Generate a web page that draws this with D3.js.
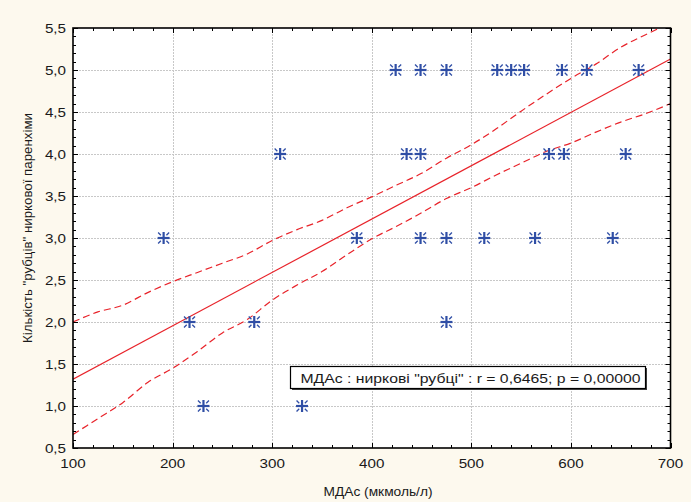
<!DOCTYPE html>
<html>
<head>
<meta charset="utf-8">
<script src="https://cdn.jsdelivr.net/npm/d3@7"></script>
<style>
  html, body { margin: 0; padding: 0; background: #fdf9ee; }
  svg { display: block; }
  text { font-family: "Liberation Sans", Arial, sans-serif; fill: #1a1a1a; }
</style>
</head>
<body>
<svg id="chart" width="691" height="502"></svg>
<script>
// ---- data ----
const mdaValues   = [424, 449, 475, 526, 540, 553, 591, 616, 668,
                     308, 435, 449, 578, 593, 655,
                     191, 385, 449, 475, 513, 564, 642,
                     217, 282, 475,
                     231, 330];
const scarValues  = [5, 5, 5, 5, 5, 5, 5, 5, 5,
                     4, 4, 4, 4, 4, 4,
                     3, 3, 3, 3, 3, 3, 3,
                     2, 2, 2,
                     1, 1];
// regression line end points
const fitX = [100, 700];
const fitY = [1.32, 5.13];
// 95% confidence band
const bandX     = [100, 125, 150, 175, 200, 225, 250, 275, 300, 325, 350, 375, 400, 425, 450, 475, 500, 525, 550, 575, 600, 625, 650, 675, 700];
const bandUpper = [2.00, 2.12, 2.20, 2.35, 2.48, 2.59, 2.70, 2.81, 2.97, 3.10, 3.21, 3.36, 3.49, 3.63, 3.77, 3.95, 4.11, 4.30, 4.51, 4.71, 4.90, 5.07, 5.27, 5.42, 5.56];
const bandLower = [0.66, 0.85, 1.04, 1.28, 1.45, 1.65, 1.87, 2.03, 2.26, 2.44, 2.60, 2.80, 2.99, 3.14, 3.30, 3.47, 3.60, 3.75, 3.89, 4.03, 4.13, 4.26, 4.38, 4.48, 4.60];
const xTicks = [100, 200, 300, 400, 500, 600, 700];
const yTicks = [0.5, 1.0, 1.5, 2.0, 2.5, 3.0, 3.5, 4.0, 4.5, 5.0, 5.5];
const xTitle = "МДАс (мкмоль/л)";
const yTitle = "Кількість \"рубців\" ниркової паренхіми";
const legendText = "МДАс : ниркові \"рубці\" :  r = 0,6465; p = 0,00000";

// ---- layout ----
const L = 73, R = 670.5, T = 28, B = 448;
const svg = d3.select("#chart");
const x = d3.scaleLinear().domain([100, 700]).range([L, R]);
const y = d3.scaleLinear().domain([0.5, 5.5]).range([B, T]);
const fmt = v => d3.format(".1f")(v).replace(".", ",");

svg.append("rect").attr("x", 0).attr("y", 0).attr("width", 691).attr("height", 502).attr("fill", "#fdf9ee");
svg.append("rect").attr("x", L).attr("y", T).attr("width", R - L).attr("height", B - T).attr("fill", "#ffffff");

// grid
const grid = svg.append("g").attr("stroke", "#c8c8c8").attr("stroke-width", 1).attr("stroke-dasharray", "2,1");
grid.selectAll(".gx").data(xTicks.slice(1, -1)).join("line")
  .attr("x1", d => Math.round(x(d)) + 0.5).attr("x2", d => Math.round(x(d)) + 0.5)
  .attr("y1", T).attr("y2", B);
grid.selectAll(".gy").data(yTicks.slice(1, -1)).join("line")
  .attr("y1", d => Math.round(y(d)) + 0.5).attr("y2", d => Math.round(y(d)) + 0.5)
  .attr("x1", L).attr("x2", R);

// clip
svg.append("clipPath").attr("id", "clip").append("rect")
  .attr("x", L).attr("y", T).attr("width", R - L).attr("height", B - T);

const red = "#e8232a";
const plot = svg.append("g").attr("clip-path", "url(#clip)");
const bandLine = d3.line().x((d, i) => x(bandX[i])).y(d => y(d)).curve(d3.curveMonotoneX);
plot.append("path").attr("d", bandLine(bandUpper)).attr("fill", "none")
  .attr("stroke", red).attr("stroke-width", 1.2).attr("stroke-dasharray", "7,4");
plot.append("path").attr("d", bandLine(bandLower)).attr("fill", "none")
  .attr("stroke", red).attr("stroke-width", 1.2).attr("stroke-dasharray", "7,4");
plot.append("path").attr("d", d3.line().x((d, i) => x(fitX[i])).y(d => y(d))(fitY))
  .attr("fill", "none").attr("stroke", red).attr("stroke-width", 1.2);

// markers
const blue = "#2f4ea5";
const pts = mdaValues.map((v, i) => [v, scarValues[i]]);
const mk = svg.append("g");
pts.forEach(([a, b]) => {
  const cx = x(a), cy = y(b);
  const g = mk.append("g").attr("transform", `translate(${cx},${cy})`).attr("stroke", blue);
  g.append("line").attr("x1", -6).attr("x2", 6).attr("y1", 0).attr("y2", 0).attr("stroke-width", 2.2);
  g.append("line").attr("x1", 0).attr("x2", 0).attr("y1", -6).attr("y2", 6).attr("stroke-width", 2.2);
  [[1,1],[1,-1],[-1,1],[-1,-1]].forEach(([sx, sy]) => {
    g.append("line").attr("x1", sx * 2.8).attr("y1", sy * 2.8).attr("x2", sx * 5.5).attr("y2", sy * 5.5).attr("stroke-width", 1.3);
  });
});

// ticks (inward, all four sides)
const ax = svg.append("g").attr("stroke", "#000").attr("stroke-width", 1);
const xMinor = d3.range(100, 701, 20);
const yMinor = d3.range(5, 56, 1).map(v => v / 10);
xMinor.forEach(v => {
  const major = v % 100 === 0;
  const len = major ? 5 : 3;
  const px = Math.round(x(v)) + 0.5;
  ax.append("line").attr("x1", px).attr("x2", px).attr("y1", B).attr("y2", B - len);
  ax.append("line").attr("x1", px).attr("x2", px).attr("y1", T).attr("y2", T + len);
});
yMinor.forEach(v => {
  const major = Math.abs(v * 2 - Math.round(v * 2)) < 1e-6;
  const len = major ? 5 : 3;
  const py = Math.round(y(v)) + 0.5;
  ax.append("line").attr("y1", py).attr("y2", py).attr("x1", L).attr("x2", L + len);
  ax.append("line").attr("y1", py).attr("y2", py).attr("x1", R).attr("x2", R - len);
});
svg.append("rect").attr("x", L).attr("y", T).attr("width", R - L).attr("height", B - T)
  .attr("fill", "none").attr("stroke", "#000").attr("stroke-width", 1.6);

// tick labels (glyphs in the reference are slightly stretched horizontally)
const sx = 1.17;
svg.selectAll(".xl").data(xTicks).join("text")
  .attr("transform", d => `translate(${x(d)},467.5) scale(${sx},1)`)
  .attr("text-anchor", "middle").attr("font-size", 13).text(d => d);
svg.selectAll(".yl").data(yTicks).join("text")
  .attr("transform", d => `translate(66,${y(d) + 4.8}) scale(${sx},1)`)
  .attr("text-anchor", "end").attr("font-size", 13).text(d => fmt(d));

// titles
svg.append("text").attr("x", 323.5).attr("y", 495.5)
  .attr("font-size", 13).attr("textLength", 109).attr("lengthAdjust", "spacingAndGlyphs").text(xTitle);
svg.append("text").attr("transform", `translate(31.5,343) rotate(-90)`)
  .attr("font-size", 13).attr("textLength", 230).attr("lengthAdjust", "spacingAndGlyphs").text(yTitle);

// legend box
const lg = svg.append("g");
lg.append("rect").attr("x", 292).attr("y", 368).attr("width", 355).attr("height", 22)
  .attr("fill", "#404040");
lg.append("rect").attr("x", 290.5).attr("y", 366.5).attr("width", 355).attr("height", 22)
  .attr("fill", "#fff").attr("stroke", "#000").attr("stroke-width", 1.2);
lg.append("text").attr("x", 300.5).attr("y", 382.5).attr("font-size", 13)
  .attr("textLength", 340).attr("lengthAdjust", "spacingAndGlyphs").text(legendText);
</script>
</body>
</html>
